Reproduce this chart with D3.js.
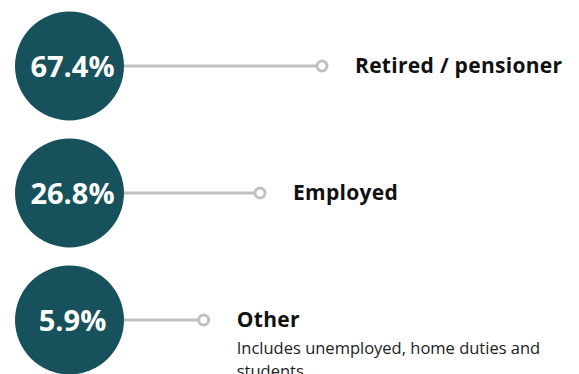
<!DOCTYPE html>
<html>
<head>
<meta charset="utf-8">
<style>
  body { margin: 0; background: #fff; }
  svg text { font-family: "Open Sans", Lato, sans-serif; }
  .pct { fill: #fff; font-weight: 700; font-size: 29px; }
  .lbl { fill: #111; font-weight: 700; font-size: 21px; letter-spacing: 0.3px; }
  .note { fill: #222; font-weight: 400; font-size: 16.5px; }
</style>
</head>
<body>
<div id="chart"></div>
<script src="https://d3js.org/d3.v7.min.js"></script>
<script>
var categories = ["Retired / pensioner", "Employed", "Other"];
var values = [67.4, 26.8, 5.9];
var notes = ["", "", "Includes unemployed, home duties and students"];

var width = 579, height = 374;
var svg = d3.select("#chart").append("svg")
  .attr("width", width)
  .attr("height", height);

var y = d3.scalePoint()
  .domain(categories)
  .range([66, 320]);

// end of the connector line
var x = d3.scaleSqrt()
  .domain([0, 67.4])
  .range([154, 322]);

var cx = 69.5, r = 54.5;

var rows = svg.selectAll("g.row")
  .data(categories)
  .enter().append("g")
  .attr("class", "row")
  .attr("transform", function(d) { return "translate(0," + y(d) + ")"; });

rows.append("line")
  .attr("x1", cx)
  .attr("x2", function(d, i) { return x(values[i]); })
  .attr("stroke", "#c0c0c0")
  .attr("stroke-width", 3);

rows.append("circle")
  .attr("cx", function(d, i) { return x(values[i]); })
  .attr("r", 5)
  .attr("fill", "#fff")
  .attr("stroke", "#c0c0c0")
  .attr("stroke-width", 3);

rows.append("circle")
  .attr("cx", cx)
  .attr("r", r)
  .attr("fill", "#17515c");

rows.append("text")
  .attr("class", "pct")
  .attr("x", cx + 3)
  .attr("y", 11)
  .attr("text-anchor", "middle")
  .text(function(d, i) { return values[i] + "%"; });

rows.append("text")
  .attr("class", "lbl")
  .attr("x", function(d, i) { return x(values[i]) + 33; })
  .attr("y", 7)
  .text(function(d) { return d; });

// wrap the note text like the reference
rows.each(function(d, i) {
  if (!notes[i]) return;
  var g = d3.select(this);
  var words = notes[i].split(" ");
  var lines = [words.slice(0, 5).join(" "), words.slice(5).join(" ")];
  g.selectAll("text.note")
    .data(lines)
    .enter().append("text")
    .attr("class", "note")
    .attr("x", x(values[i]) + 33)
    .attr("y", function(t, k) { return 34 + k * 23; })
    .text(function(t) { return t; });
});
</script>
</body>
</html>
